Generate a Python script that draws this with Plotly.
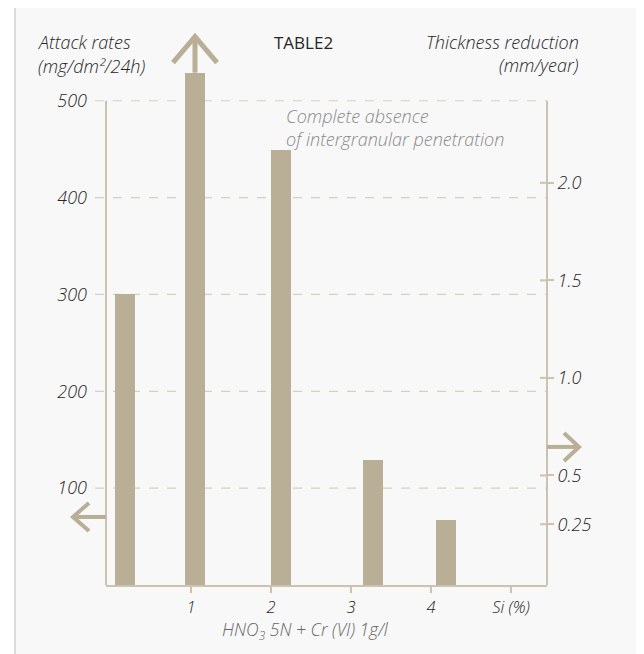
import plotly.graph_objects as go

# ---- data ----
si_content = [0.18, 1.05, 2.13, 3.27, 4.19]
attack_rates = [300, 529, 449, 129, 67]
left_ticks = [100, 200, 300, 400, 500]
right_tick_vals = [0.25, 0.5, 1.0, 1.5, 2.0]
right_tick_text = ["0.25", "0.5", "1.0", "1.5", "2.0"]
x_tick_vals = [1, 2, 3, 4, 5]
x_tick_text = ["1", "2", "3", "4", "Si (%)"]

# ---- styling / geometry ----
BAR = "#b9ae96"
AXIS = "#cbc2af"
GRID = "#d6cfc0"
TXT = "#262626"
GREY = "#8a8a8a"
FONT = "Open Sans"
WEIGHT = 340
W_PX, H_PX = 644, 654
OFF = 8  # page body margin


def f(p):
    """page pixel -> figure pixel"""
    return p - OFF


L, R, B = f(106), f(547), f(585)
K = 484 / 500  # px per unit of left axis
XR = [-0.0625, 5.45]
YR = [0, 540]
T = B - YR[1] * K
PW, PH = R - L, B - T
S2 = 195.0  # px per unit of right axis
Y2R = [1.0 - (B - f(378)) / S2, 2.0 + (f(183) - T) / S2]


def px(x):
    return (f(x) - L) / PW


def py(y):
    return (B - f(y)) / PH


def xdata_to_paper(v):
    return (v - XR[0]) / (XR[1] - XR[0])


def ydata_to_paper(v):
    return (v - YR[0]) / (YR[1] - YR[0])


fig = go.Figure()
fig.add_trace(go.Bar(x=si_content, y=attack_rates, width=0.25, marker_color=BAR,
                     marker_line_width=0, showlegend=False, hoverinfo="skip"))
fig.add_trace(go.Scatter(x=[XR[0]], y=[Y2R[0]], yaxis="y2", mode="markers",
                         marker=dict(opacity=0), showlegend=False, hoverinfo="skip"))

shapes = []
# background panel
shapes.append(dict(type="rect", xref="paper", yref="paper", x0=px(15), x1=px(720),
                   y0=py(7), y1=py(720), fillcolor="#f8f8f8",
                   line=dict(color="#cfcfcf", width=1.5), layer="below"))
# dashed gridlines (extend slightly left of axis)
for v in left_ticks:
    shapes.append(dict(type="line", xref="paper", yref="y", x0=px(95), x1=1, y0=v, y1=v,
                       line=dict(color=GRID, width=1.2, dash="dash"), layer="below"))
# vertical axis lines (from 0 to the top tick)
ytop = ydata_to_paper(max(left_ticks))
for xx in (0, 1):
    shapes.append(dict(type="line", xref="paper", yref="paper", x0=xx, x1=xx, y0=0, y1=ytop,
                       line=dict(color=AXIS, width=2)))
# right-axis crossing ticks (inner part)
for v in right_tick_vals:
    shapes.append(dict(type="line", xref="paper", yref="y2", x0=px(540), x1=1, y0=v, y1=v,
                       line=dict(color=AXIS, width=2)))
# up arrow above the tallest bar (overflow)
imax = attack_rates.index(max(attack_rates))
cx = xdata_to_paper(si_content[imax])
top = ydata_to_paper(attack_rates[imax])
tip = py(37)
wing = py(63)
hw = 22 / PW
shapes.append(dict(type="line", xref="paper", yref="paper", x0=cx, x1=cx, y0=top, y1=tip - 2 / PH,
                   line=dict(color=BAR, width=5)))
shapes.append(dict(type="path", xref="paper", yref="paper",
                   path=f"M {cx-hw},{wing} L {cx},{tip} L {cx+hw},{wing}",
                   line=dict(color=BAR, width=5)))
# left arrow
ly = py(517)
shapes.append(dict(type="line", xref="paper", yref="paper", x0=0, x1=px(74), y0=ly, y1=ly,
                   line=dict(color=BAR, width=4)))
shapes.append(dict(type="path", xref="paper", yref="paper",
                   path=f"M {px(89)},{py(503)} L {px(73)},{ly} L {px(89)},{py(531)}",
                   line=dict(color=BAR, width=4)))
# right arrow
ry = py(447)
shapes.append(dict(type="line", xref="paper", yref="paper", x0=1, x1=px(578), y0=ry, y1=ry,
                   line=dict(color=BAR, width=4)))
shapes.append(dict(type="path", xref="paper", yref="paper",
                   path=f"M {px(564)},{py(433)} L {px(579)},{ry} L {px(564)},{py(461)}",
                   line=dict(color=BAR, width=4)))

ital = dict(family=FONT, size=18, color=TXT, style="italic", weight=WEIGHT)
annotations = [
    dict(text="Attack rates", x=px(36), y=py(42), xanchor="left", yanchor="middle", font=ital),
    dict(text="(mg/dm²/24h)", x=px(36), y=py(66), xanchor="left", yanchor="middle", font=ital),
    dict(text="Thickness reduction", x=px(581), y=py(42), xanchor="right", yanchor="middle", font=ital),
    dict(text="(mm/year)", x=px(581), y=py(65), xanchor="right", yanchor="middle", font=ital),
    dict(text="TABLE2", x=px(303), y=py(43), xanchor="center", yanchor="middle",
         font=dict(family=FONT, size=17, color=TXT, weight=WEIGHT + 60)),
    dict(text="Complete absence", x=px(284), y=py(116), xanchor="left", yanchor="middle",
         font=dict(family=FONT, size=18, color=GREY, style="italic", weight=WEIGHT)),
    dict(text="of intergranular penetration", x=px(284), y=py(139), xanchor="left", yanchor="middle",
         font=dict(family=FONT, size=18, color=GREY, style="italic", weight=WEIGHT)),
    dict(text="HNO<sub>3</sub> 5N + Cr (VI) 1g/l", x=px(305), y=py(630), xanchor="center",
         yanchor="middle", font=dict(family=FONT, size=17.5, color="#666666", style="italic",
                                     weight=WEIGHT)),
]
for a in annotations:
    a.update(xref="paper", yref="paper", showarrow=False)

tickfont = dict(family=FONT, size=18, color=TXT, style="italic", weight=WEIGHT)
xtickfont = dict(family=FONT, size=16.5, color=TXT, style="italic", weight=WEIGHT)
fig.update_layout(
    width=W_PX, height=H_PX,
    margin=dict(l=L, r=W_PX - R, t=T, b=H_PX - B, autoexpand=False),
    paper_bgcolor="white", plot_bgcolor="rgba(0,0,0,0)",
    shapes=shapes, annotations=annotations, bargap=0, hovermode=False,
    xaxis=dict(range=XR, tickvals=x_tick_vals, ticktext=x_tick_text, showgrid=False, zeroline=False,
               showline=True, linecolor=AXIS, linewidth=2, ticks="outside", ticklen=6, tickwidth=2,
               tickcolor=AXIS, tickfont=xtickfont),
    yaxis=dict(range=YR, tickvals=left_ticks, showgrid=False, zeroline=False, showline=False,
               ticks="", ticklabelstandoff=18, tickfont=tickfont),
    yaxis2=dict(range=Y2R, overlaying="y", side="right", tickvals=right_tick_vals,
                ticktext=right_tick_text, showgrid=False, zeroline=False, showline=False,
                ticks="outside", ticklen=6, tickwidth=2, tickcolor=AXIS, tickfont=tickfont),
)

fig.write_html("out.html")
